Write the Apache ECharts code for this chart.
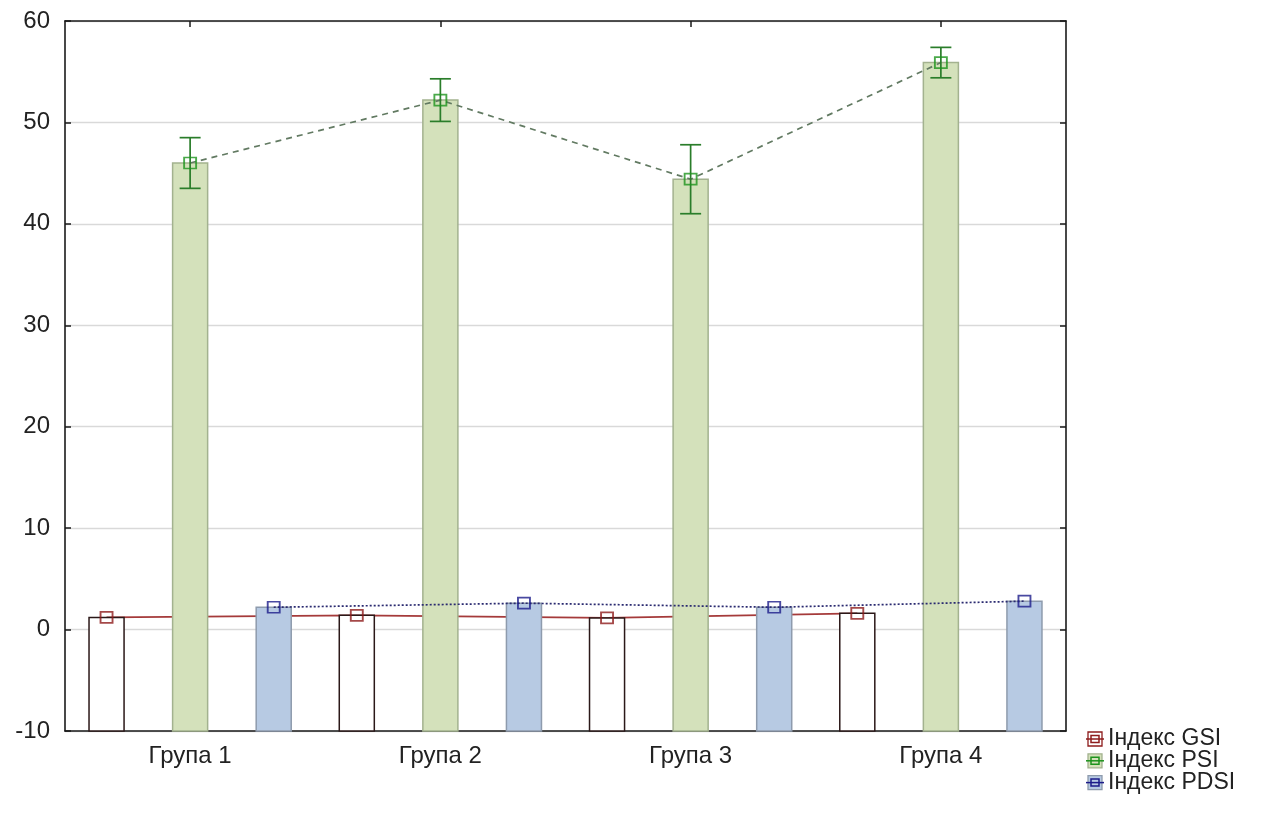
<!DOCTYPE html>
<html>
<head>
<meta charset="utf-8">
<title>Індекси GSI, PSI, PDSI</title>
<script src="https://cdn.jsdelivr.net/npm/echarts@6/dist/echarts.min.js"></script>
<style>
  html, body { margin: 0; padding: 0; background: #fff; }
  #chart { width: 1269px; height: 819px; }
</style>
</head>
<body>
<div id="chart"></div>
<script>
// Groups and index means
const categories = ['Група 1', 'Група 2', 'Група 3', 'Група 4'];
const seriesNames = ['Індекс GSI', 'Індекс PSI', 'Індекс PDSI'];
const gsi = [1.2, 1.4, 1.15, 1.6];
const psi = [46.0, 52.2, 44.4, 55.9];
const psiErr = [2.5, 2.1, 3.4, 1.5];
const pdsi = [2.2, 2.6, 2.2, 2.8];
const yMin = -10, yMax = 60, yStep = 10;

const FONT = '"Liberation Sans", Arial, sans-serif';
const offsets = [-0.334, 0, 0.334];           // bar position within a group
const barFill = ['#ffffff', '#d4e1bb', '#b7cae3'];
const barStroke = ['#2b1818', '#a3b28f', '#8e9bad'];
const markColor = ['#8e1c1c', '#1d931d', '#1c1c8a'];
const lineColor = ['#a53a3a', '#627a62', '#2a2a70'];
const lineType = ['solid', [6, 5], [2, 2]];
const valueSets = [gsi, psi, pdsi];

// bars rise from the bottom of the value axis
function barRenderer(k) {
  return function (params, api) {
    const x = api.value(0);
    const v = api.value(1);
    const unit = api.size([1, 0])[0];
    const top = api.coord([x, v]);
    const base = api.coord([x, yMin]);
    const w = unit * 0.14;
    return {
      type: 'rect',
      shape: { x: top[0] - w / 2, y: top[1], width: w, height: base[1] - top[1] },
      style: { fill: barFill[k], stroke: barStroke[k], lineWidth: 1.5 }
    };
  };
}

function errRender(params, api) {
  const x = api.value(0);
  const lo = api.coord([x, api.value(1)]);
  const hi = api.coord([x, api.value(2)]);
  const cap = 10.5;
  const st = { stroke: '#2a7d2a', lineWidth: 1.7 };
  return {
    type: 'group',
    children: [
      { type: 'line', shape: { x1: lo[0], y1: lo[1], x2: hi[0], y2: hi[1] }, style: st },
      { type: 'line', shape: { x1: lo[0] - cap, y1: lo[1], x2: lo[0] + cap, y2: lo[1] }, style: st },
      { type: 'line', shape: { x1: hi[0] - cap, y1: hi[1], x2: hi[0] + cap, y2: hi[1] }, style: st }
    ]
  };
}

const series = [];
valueSets.forEach(function (vals, k) {
  const pts = vals.map(function (v, i) { return [i + offsets[k], v]; });
  series.push({
    name: seriesNames[k] + ' bars', type: 'custom', xAxisIndex: 2, yAxisIndex: 0,
    renderItem: barRenderer(k), data: pts, z: 2, silent: true
  });
  series.push({
    name: seriesNames[k] + ' line', type: 'line', xAxisIndex: 2, yAxisIndex: 0,
    data: pts, showSymbol: false, symbol: 'none',
    lineStyle: { color: lineColor[k], width: 1.7, type: lineType[k] },
    z: k === 0 ? 1 : 3, silent: true
  });
  series.push({
    name: seriesNames[k], type: 'scatter', xAxisIndex: 2, yAxisIndex: 0,
    data: pts, symbol: 'rect', symbolSize: [12, 11],
    itemStyle: { color: 'rgba(0,0,0,0)', borderColor: markColor[k], borderWidth: 1.8 },
    z: 5, silent: true
  });
});
series.push({
  name: 'PSI error', type: 'custom', xAxisIndex: 2, yAxisIndex: 0,
  renderItem: errRender,
  data: psi.map(function (v, i) { return [i, v - psiErr[i], v + psiErr[i]]; }),
  z: 4, silent: true
});

// legend block in the lower right corner
const legendItems = [];
seriesNames.forEach(function (name, k) {
  const cy = 739 + k * 21.8;
  const x0 = 1088;
  legendItems.push({
    type: 'rect', shape: { x: x0, y: cy - 7, width: 14, height: 14 },
    style: { fill: barFill[k], stroke: k === 0 ? markColor[0] : barStroke[k], lineWidth: 1.3 }
  });
  legendItems.push({
    type: 'line', shape: { x1: x0 - 2, y1: cy, x2: x0 + 16, y2: cy },
    style: { stroke: markColor[k], lineWidth: 1.5 }
  });
  legendItems.push({
    type: 'rect', shape: { x: x0 + 3, y: cy - 3.5, width: 8, height: 7 },
    style: { fill: 'rgba(0,0,0,0)', stroke: markColor[k], lineWidth: 1.5 }
  });
  legendItems.push({
    type: 'text', x: 1108, y: cy,
    style: { text: name, fill: '#222', font: '23px ' + FONT, textVerticalAlign: 'middle', verticalAlign: 'middle' }
  });
});

const axisLine = { show: true, onZero: false, lineStyle: { color: '#1a1a1a', width: 1.6 } };
const tick = { show: true, inside: true, length: 6, lineStyle: { color: '#1a1a1a', width: 1.5 } };
const option = {
  animation: false,
  backgroundColor: '#ffffff',
  grid: { left: 65, right: 203, top: 21, bottom: 88, containLabel: false },
  xAxis: [
    {
      type: 'category', position: 'bottom', data: categories, boundaryGap: true,
      axisLine: axisLine,
      axisTick: Object.assign({ alignWithLabel: true }, tick),
      axisLabel: { color: '#222', fontSize: 24, fontFamily: FONT, margin: 13 },
      splitLine: { show: false }
    },
    {
      type: 'category', position: 'top', data: categories, boundaryGap: true,
      axisLine: axisLine,
      axisTick: Object.assign({ alignWithLabel: true }, tick),
      axisLabel: { show: false },
      splitLine: { show: false }
    },
    { type: 'value', min: -0.5, max: 3.5, show: false, axisLine: { onZero: false } }
  ],
  yAxis: [
    {
      type: 'value', position: 'left', min: yMin, max: yMax, interval: yStep,
      axisLine: axisLine,
      axisTick: tick,
      axisLabel: { color: '#222', fontSize: 24, fontFamily: FONT, margin: 15 },
      splitLine: { show: true, lineStyle: { color: '#d9d9d9', width: 1.3 } }
    },
    {
      type: 'value', position: 'right', min: yMin, max: yMax, interval: yStep,
      axisLine: axisLine,
      axisTick: tick,
      axisLabel: { show: false },
      splitLine: { show: false }
    }
  ],
  graphic: legendItems,
  series: series
};

const chart = echarts.init(document.getElementById('chart'), null, { renderer: 'canvas' });
chart.setOption(option);
</script>
</body>
</html>
